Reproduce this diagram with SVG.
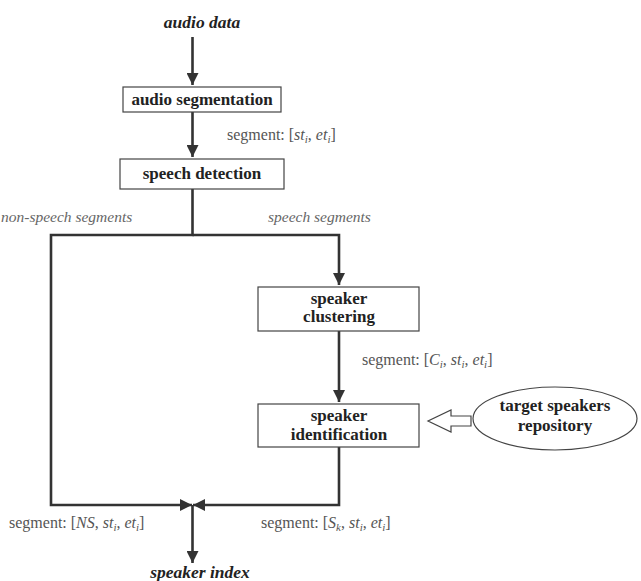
<svg xmlns="http://www.w3.org/2000/svg" width="641" height="581" viewBox="0 0 641 581">
<style>
.box{fill:#fff;stroke:#444;stroke-width:1.2}
.bt{font-family:"Liberation Serif",serif;font-weight:bold;font-size:17px;fill:#222;text-anchor:middle}
.io{font-family:"Liberation Serif",serif;font-weight:bold;font-style:italic;font-size:17.5px;fill:#222;text-anchor:middle}
.lb{font-family:"Liberation Serif",serif;font-size:16px;fill:#555}
.it{font-family:"Liberation Serif",serif;font-style:italic;font-size:15.5px;fill:#666}
.m{font-style:italic}
.s{font-size:11px;font-style:italic}
.ln{fill:none;stroke:#333;stroke-width:2.6}
</style>
<defs>
<marker id="ah" markerUnits="userSpaceOnUse" markerWidth="12" markerHeight="12" viewBox="0 0 12 12" refX="12" refY="6" orient="auto">
<path d="M0,0 L12,6 L0,12 Z" fill="#333"/>
</marker>
</defs>
<g id="connectors">
<line class="ln" x1="192.5" y1="37" x2="192.5" y2="85" marker-end="url(#ah)"/>
<line class="ln" x1="192.5" y1="112" x2="192.5" y2="157" marker-end="url(#ah)"/>
<polyline class="ln" points="192.5,189 192.5,235 51,235 51,505 192,505" marker-end="url(#ah)"/>
<polyline class="ln" points="192.5,235 339,235 339,285" marker-end="url(#ah)"/>
<line class="ln" x1="339" y1="331" x2="339" y2="402" marker-end="url(#ah)"/>
<polyline class="ln" points="339,447 339,505 193,505" marker-end="url(#ah)"/>
<line class="ln" x1="192.5" y1="505" x2="192.5" y2="563" marker-end="url(#ah)"/>
<path d="M471,416 L451,416 L451,410 L428,421 L451,432 L451,426 L471,426 Z" fill="#fff" stroke="#444" stroke-width="1.2"/>
</g>
<g id="audio-data"><text class="io" x="202" y="28">audio data</text></g>
<g id="audio-segmentation">
<rect class="box" x="123" y="87" width="158" height="25"/>
<text class="bt" x="202" y="105">audio segmentation</text>
</g>
<g id="speech-detection">
<rect class="box" x="120" y="159" width="164" height="30"/>
<text class="bt" x="202" y="179">speech detection</text>
</g>
<g id="speaker-clustering">
<rect class="box" x="258" y="287" width="161" height="44"/>
<text class="bt" x="339" y="304">speaker</text>
<text class="bt" x="339" y="322">clustering</text>
</g>
<g id="speaker-identification">
<rect class="box" x="258" y="404" width="161" height="43"/>
<text class="bt" x="339" y="421">speaker</text>
<text class="bt" x="339" y="440">identification</text>
</g>
<g id="target-speakers-repository">
<ellipse cx="555" cy="418.5" rx="82" ry="31.5" fill="#fff" stroke="#444" stroke-width="1.2"/>
<text class="bt" x="555" y="411">target speakers</text>
<text class="bt" x="555" y="431">repository</text>
</g>
<g id="speaker-index"><text class="io" x="200" y="578">speaker index</text></g>
<g id="labels">
<text class="lb" x="227" y="140">segment: [<tspan class="m">st</tspan><tspan class="s" dy="3">i</tspan><tspan dy="-3">, </tspan><tspan class="m">et</tspan><tspan class="s" dy="3">i</tspan><tspan dy="-3">]</tspan></text>
<text class="it" x="1" y="222">non-speech segments</text>
<text class="it" x="268" y="222">speech segments</text>
<text class="lb" x="362" y="365">segment: [<tspan class="m">C</tspan><tspan class="s" dy="3">i</tspan><tspan dy="-3">, </tspan><tspan class="m">st</tspan><tspan class="s" dy="3">i</tspan><tspan dy="-3">, </tspan><tspan class="m">et</tspan><tspan class="s" dy="3">i</tspan><tspan dy="-3">]</tspan></text>
<text class="lb" x="9" y="528">segment: [<tspan class="m">NS</tspan><tspan>, </tspan><tspan class="m">st</tspan><tspan class="s" dy="3">i</tspan><tspan dy="-3">, </tspan><tspan class="m">et</tspan><tspan class="s" dy="3">i</tspan><tspan dy="-3">]</tspan></text>
<text class="lb" x="261" y="528">segment: [<tspan class="m">S</tspan><tspan class="s" dy="3">k</tspan><tspan dy="-3">, </tspan><tspan class="m">st</tspan><tspan class="s" dy="3">i</tspan><tspan dy="-3">, </tspan><tspan class="m">et</tspan><tspan class="s" dy="3">i</tspan><tspan dy="-3">]</tspan></text>
</g>
</svg>
